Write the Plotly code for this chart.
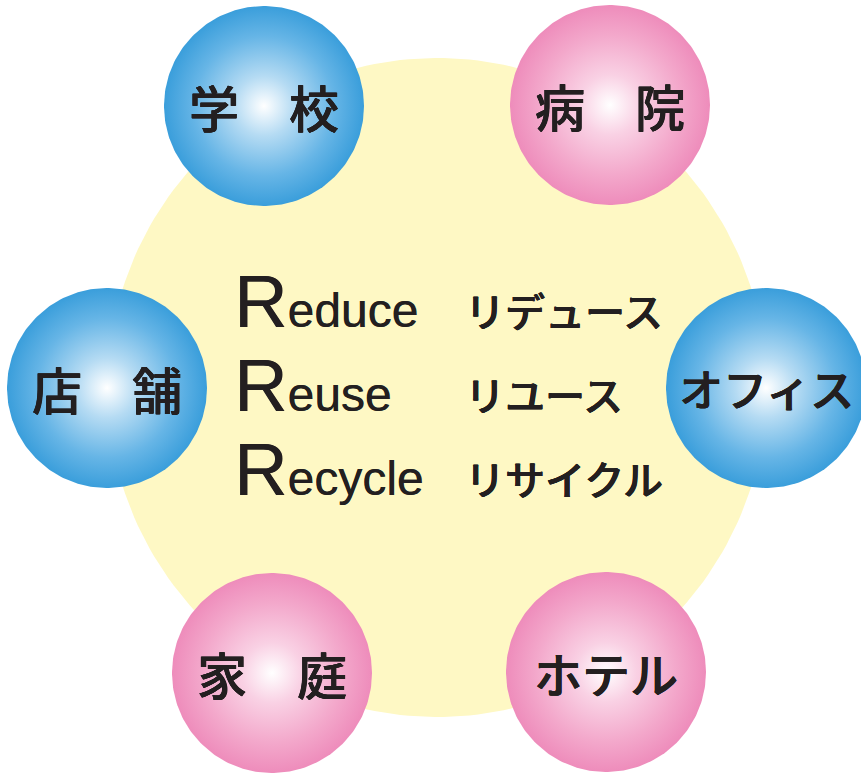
import numpy as np
import plotly.graph_objects as go

# ---- data ----
node_labels = ["学　校", "病　院", "店　舗", "オフィス", "家　庭", "ホテル"]
node_groups = ["blue", "pink", "blue", "blue", "pink", "pink"]
r_words = ["educe", "euse", "ecycle"]
kana_words = ["リデュース", "リユース", "リサイクル"]

# ---- layout (pixel coordinates) ----
W, H = 861, 773
NODE_POS = [(264, 106), (610, 105), (107, 388), (766, 388), (272, 673), (606, 672)]
NODE_FONT = [50, 50, 50, 44, 50, 48]
NODE_R = 100
BIG_C, BIG_R = (437, 387.5), 329.5
ROW_Y = [331, 415, 499]

GRAD = {
    "blue": [[0, "#ffffff"], [0.3, "#b5dbf3"], [0.7, "#66b5e6"], [1, "#3a9edb"]],
    "pink": [[0, "#ffffff"], [0.3, "#f9d1e4"], [0.7, "#f3a8cb"], [1, "#ee8cbb"]],
}
TXT = "#231f20"
JP = "Noto Sans CJK JP Medium, Noto Sans CJK JP"
THICK = "0.6px 0 0 #231f20, -0.3px 0 0 #231f20, 0 0.4px 0 #231f20"

def circle(cx, cy, r, n=240):
    t = np.linspace(0, 2 * np.pi, n)
    return cx + r * np.cos(t), cy + r * np.sin(t)

fig = go.Figure()

bx, by = circle(*BIG_C, BIG_R)
fig.add_trace(go.Scatter(x=bx, y=by, mode="lines", fill="toself",
                         fillcolor="#fef8c4", line=dict(width=0),
                         hoverinfo="skip", showlegend=False))

for (cx, cy), g in zip(NODE_POS, node_groups):
    x, y = circle(cx, cy, NODE_R)
    fig.add_trace(go.Scatter(x=x, y=y, mode="lines", fill="toself",
                             fillgradient=dict(type="radial", colorscale=GRAD[g]),
                             line=dict(width=0), hoverinfo="skip", showlegend=False))

annotations = []
for (cx, cy), lab, fs in zip(NODE_POS, node_labels, NODE_FONT):
    annotations.append(dict(x=cx, y=cy, text=lab, showarrow=False,
                            xanchor="center", yanchor="middle",
                            font=dict(family=JP, size=fs, color=TXT, shadow=THICK)))

for yb, w, k in zip(ROW_Y, r_words, kana_words):
    annotations.append(dict(x=232, y=yb, yshift=-14, text=f'<span style="font-size:74px">R</span>{w}',
                            showarrow=False, xanchor="left", yanchor="bottom",
                            font=dict(family="Liberation Sans", size=48, color=TXT,
                                      shadow="0.4px 0 0 #231f20")))
    annotations.append(dict(x=463, y=yb, yshift=-10, text=k, showarrow=False,
                            xanchor="left", yanchor="bottom",
                            font=dict(family=JP, size=40, color=TXT, shadow=THICK)))

fig.update_layout(
    width=W, height=H, margin=dict(l=0, r=0, t=0, b=0),
    paper_bgcolor="white", plot_bgcolor="white",
    xaxis=dict(range=[0, W], visible=False, fixedrange=True),
    yaxis=dict(range=[H, 0], visible=False, fixedrange=True),
    annotations=annotations, showlegend=False,
)

fig.write_html("out.html", config={"displayModeBar": False},
               post_script="document.body.style.margin='0';document.body.style.overflow='hidden';")
